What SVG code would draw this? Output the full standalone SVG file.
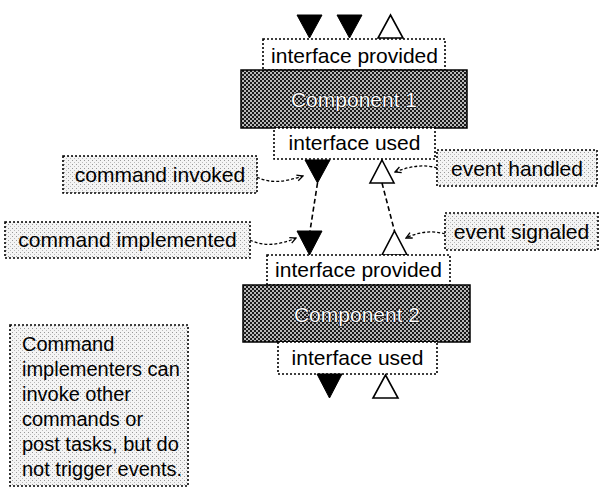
<svg xmlns="http://www.w3.org/2000/svg" width="600" height="487" viewBox="0 0 600 487">
  <defs>
    <!-- dark checker fill of the component bodies -->
    <pattern id="checker" width="4" height="4" patternUnits="userSpaceOnUse">
      <rect width="4" height="4" fill="#b8b8b8"/>
      <rect width="2" height="2" fill="#1a1a1a"/>
      <rect x="2" y="2" width="2" height="2" fill="#1a1a1a"/>
    </pattern>
    <!-- light stipple fill of the callout labels -->
    <pattern id="stipple" width="4" height="4" patternUnits="userSpaceOnUse">
      <rect width="4" height="4" fill="#f4f4f4"/>
      <rect x="0" y="0" width="1" height="1" fill="#999"/>
      <rect x="2" y="2" width="1" height="1" fill="#bbb"/>
    </pattern>
    <marker id="arrow" markerWidth="8" markerHeight="8" refX="7" refY="4" orient="auto" markerUnits="userSpaceOnUse">
      <path d="M1,1 L7,4 L1,7" fill="none" stroke="#000" stroke-width="1.3"/>
    </marker>
  </defs>
  <style>
    text { font-family: "Liberation Sans", Arial, sans-serif; fill: #000; }
    .iface { fill: #fff; stroke: #000; stroke-width: 1.6; stroke-dasharray: 2 2; }
    .iface-t { font-size: 21px; text-anchor: middle; }
    .body { fill: url(#checker); stroke: #000; stroke-width: 1.5; }
    .body-t { font-size: 21px; text-anchor: middle; fill: #fff; stroke: #000; stroke-width: 1.2; paint-order: stroke; }
    .label { fill: url(#stipple); stroke: #000; stroke-width: 1.6; stroke-dasharray: 2 2; }
    .label-t { font-size: 21px; text-anchor: middle; }
    .note-t { font-size: 20px; }
    .cmd { fill: #000; stroke: #000; stroke-width: 1; }
    .evt { fill: #fff; stroke: #000; stroke-width: 1.6; }
    .wire { fill: none; stroke: #000; stroke-width: 1.6; stroke-dasharray: 5 3; }
    .pointer { fill: none; stroke: #000; stroke-width: 1.3; stroke-dasharray: 3 2; }
  </style>

  <!-- Component 1 with its interfaces and ports -->
  <g id="component1">
    <polygon class="cmd" points="297,15 322,15 309.5,38"/>
    <polygon class="cmd" points="337,15 362,15 349.5,38"/>
    <polygon class="evt" points="390.5,15 403,38 378,38"/>
    <rect class="iface" x="263" y="39" width="182" height="31"/>
    <text class="iface-t" x="354.5" y="63">interface provided</text>
    <rect class="body" x="241" y="70" width="226" height="58"/>
    <text class="body-t" x="354" y="107">Component 1</text>
    <rect class="iface" x="274" y="128" width="161" height="31"/>
    <text class="iface-t" x="354.5" y="150">interface used</text>
    <polygon class="cmd" points="305,160 330,160 317.5,183"/>
    <polygon class="evt" points="382,160 394,183 370,183"/>
  </g>

  <!-- Component 2 with its interfaces and ports -->
  <g id="component2">
    <polygon class="cmd" points="297,231 322,231 309.5,255"/>
    <polygon class="evt" points="394.5,231 407,255 382,255"/>
    <rect class="iface" x="267" y="255" width="183" height="30"/>
    <text class="iface-t" x="358.5" y="277">interface provided</text>
    <rect class="body" x="243" y="285" width="227" height="57"/>
    <text class="body-t" x="357" y="322">Component 2</text>
    <rect class="iface" x="278" y="342" width="159" height="32"/>
    <text class="iface-t" x="357.5" y="365">interface used</text>
    <polygon class="cmd" points="317,374 342,374 329.5,398"/>
    <polygon class="evt" points="385.5,375 398,398 373,398"/>
  </g>

  <!-- callout labels -->
  <g id="label-command-invoked">
    <rect class="label" x="63" y="156" width="194" height="37"/>
    <text class="label-t" x="160" y="182">command invoked</text>
  </g>
  <g id="label-command-implemented">
    <rect class="label" x="5" y="222" width="245" height="36"/>
    <text class="label-t" x="127.5" y="247">command implemented</text>
  </g>
  <g id="label-event-handled">
    <rect class="label" x="437" y="150" width="160" height="36"/>
    <text class="label-t" x="517" y="176">event handled</text>
  </g>
  <g id="label-event-signaled">
    <rect class="label" x="445" y="213" width="153" height="37"/>
    <text class="label-t" x="521.5" y="239">event signaled</text>
  </g>

  <!-- side note -->
  <g id="note">
    <rect class="label" x="10" y="325" width="178" height="161"/>
    <text class="note-t" x="22" y="351">Command</text>
    <text class="note-t" x="22" y="376">implementers can</text>
    <text class="note-t" x="22" y="401">invoke other</text>
    <text class="note-t" x="22" y="426">commands or</text>
    <text class="note-t" x="22" y="451">post tasks, but do</text>
    <text class="note-t" x="22" y="476">not trigger events.</text>
  </g>

  <!-- connectors -->
  <g id="connectors">
    <path class="wire" d="M317.5,183 L310,231"/>
    <path class="wire" d="M382,183 L394.5,231"/>
    <path class="pointer" marker-end="url(#arrow)" d="M257,177 C270,184 285,182 303,176"/>
    <path class="pointer" marker-end="url(#arrow)" d="M250,240 C264,247 280,245 296,238"/>
    <path class="pointer" marker-end="url(#arrow)" d="M437,168 C425,164 410,166 395,172"/>
    <path class="pointer" marker-end="url(#arrow)" d="M445,234 C432,230 418,232 406,238"/>
  </g>
</svg>
